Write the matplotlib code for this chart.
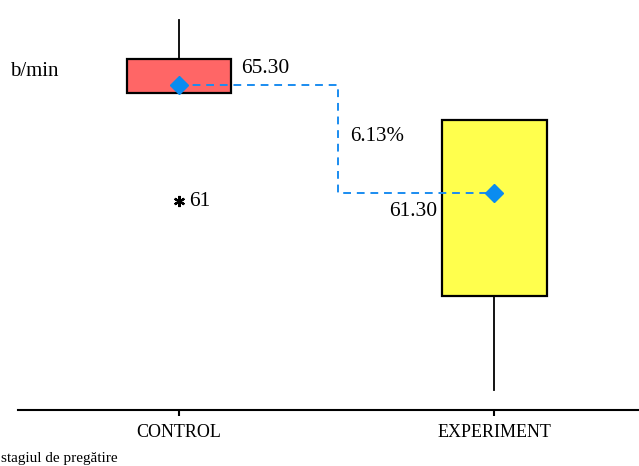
import matplotlib
matplotlib.use("Agg")
import matplotlib.pyplot as plt

plt.rcParams['font.family'] = ['Liberation Serif', 'DejaVu Serif']

# box statistics (b/min)
groups = ["CONTROL", "EXPERIMENT"]
q1 = [65.0, 57.5]
q3 = [66.25, 64.0]
med = [65.3, 61.3]
whislo = [65.0, 54.0]
whishi = [67.7, 64.0]
fliers = [[61.0], []]
means = [65.30, 61.30]
box_colors = ["#ff6666", "#ffff4d"]
diff_label = "6.13%"

stats = []
for i in range(len(groups)):
    stats.append(dict(label=groups[i], q1=q1[i], q3=q3[i], med=med[i],
                      whislo=whislo[i], whishi=whishi[i],
                      fliers=fliers[i], mean=means[i]))

fig = plt.figure(figsize=(6.39, 4.66), dpi=100)
ax = fig.add_axes([18 / 639, 56 / 466, 621 / 639, 410 / 466])

bp = ax.bxp(stats, positions=[1, 2], widths=0.333, patch_artist=True,
            showcaps=False, showmeans=True,
            boxprops=dict(linewidth=1.6, edgecolor="black"),
            whiskerprops=dict(linewidth=1.3, color="black"),
            medianprops=dict(visible=False),
            meanprops=dict(marker="D", markersize=9, markerfacecolor="#0a8cf0",
                           markeredgecolor="#0a8cf0", zorder=5),
            flierprops=dict(marker=(6, 2, 0), markersize=8, markeredgewidth=1.6,
                            markeredgecolor="black"))
for patch, c in zip(bp["boxes"], box_colors):
    patch.set_facecolor(c)

# dashed connector between the two means (drawn over the boxes)
xmid = 1.505
ax.plot([1, xmid, xmid, 2], [means[0], means[0], means[1], means[1]],
        ls=(0, (4, 3)), color="#1a8cf0", lw=1.4, zorder=4)

num_fs = 15.5
ax.annotate(f"{means[0]:.2f}", (1, means[0]), xytext=(44.6, 12.2),
            textcoords="offset points", ha="left", va="center", fontsize=num_fs)
ax.annotate(f"{means[1]:.2f}", (2, means[1]), xytext=(-41, -13),
            textcoords="offset points", ha="right", va="center", fontsize=num_fs)
ax.annotate(diff_label, (xmid, (means[0] + means[1]) / 2), xytext=(8.6, 1.5),
            textcoords="offset points", ha="left", va="center", fontsize=15)
ax.annotate(f"{fliers[0][0]:g}", (1, fliers[0][0]), xytext=(7.5, 0),
            textcoords="offset points", ha="left", va="center", fontsize=num_fs)

ax.set_xlim(0.489, 2.46)
ax.set_ylim(53.26, 68.45)
for s in ["top", "left", "right"]:
    ax.spines[s].set_visible(False)
ax.spines["bottom"].set_linewidth(1.5)
ax.set_yticks([])
ax.set_xticks([1, 2], groups)
ax.tick_params(axis="x", direction="out", length=4, width=1.5, labelsize=13, pad=6)

fig.text(10 / 639, 1 - 72 / 466, "b/min", ha="left", va="center", fontsize=15)
fig.text(1 / 639, 1 / 466, "stagiul de pregătire", ha="left", va="bottom", fontsize=11)

fig.savefig("out.png", dpi=100)
